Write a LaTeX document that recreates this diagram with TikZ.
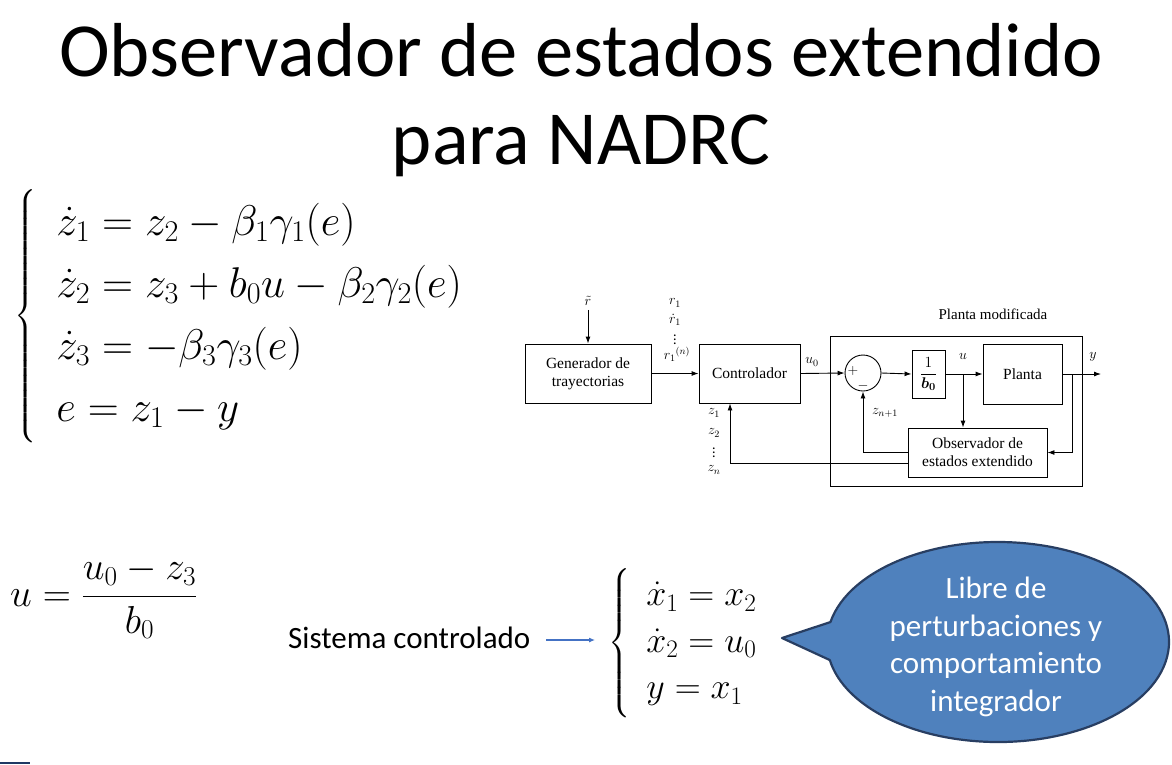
\RequirePackage{fix-cm}
\documentclass[tikz,border=0pt]{standalone}
\usepackage{amsmath}
\usepackage{fontspec}
\setmainfont{Carlito}
\newfontfamily\tnr{Liberation Serif}
\usetikzlibrary{arrows.meta}
\definecolor{callfill}{RGB}{79,129,189}
\definecolor{callline}{RGB}{40,62,98}
\definecolor{arrblue}{RGB}{68,114,196}
\definecolor{navy}{RGB}{31,56,100}
\begin{document}
\begin{tikzpicture}[x=1pt,y=-1pt,
  blk/.style={draw, line width=0.9pt, inner sep=0pt, align=center,
    font=\tnr\fontsize{15.5}{18}\selectfont},
  arr/.style={-{Latex[length=7pt,width=5pt]}, line width=0.9pt},
  lbl/.style={inner sep=0pt, font=\fontsize{14}{16}\selectfont},
  title/.style={inner sep=0pt, anchor=base, font=\fontsize{76.5}{82}\selectfont}]
\useasboundingbox (0,0) rectangle (1172,764);
\fill[white] (0,0) rectangle (1172,764);

% title
\node[title] (t1) at (581,76) {Observador de estados extendido};
\node[title] (t2) at (581,164) {para NADRC};

% extended state observer equations
\node[anchor=west, inner sep=0pt] (sysz) at (14,316)
  {\fontsize{43}{62}\selectfont
   $\left\{\begin{array}{@{\hspace{20pt}}l@{}}
   \dot z_1 = z_2 - \beta_1\gamma_1(e)\\
   \dot z_2 = z_3 + b_0u - \beta_2\gamma_2(e)\\
   \dot z_3 = -\beta_3\gamma_3(e)\\
   e = z_1 - y
   \end{array}\right.$};

% block diagram
\node[blk, minimum width=126pt, minimum height=59pt] (gen) at (588,373.5) {Generador de\\trayectorias};
\node[blk, minimum width=101pt, minimum height=59pt] (ctrl) at (749.5,373.5) {Controlador};
\node[draw, line width=0.9pt, minimum width=252pt, minimum height=150pt, inner sep=0pt] (pm) at (956,411) {};
\node[lbl, font=\tnr\fontsize{15}{17}\selectfont] (pmlbl) at (993,314) {Planta modificada};
\node[draw, circle, line width=0.9pt, minimum size=36pt, inner sep=0pt] (sum) at (863,373) {};
\node[lbl] (plus) at (853,371) {$+$};
\node[lbl] (minus) at (863,386) {$-$};
\node[blk, minimum width=33pt, minimum height=48pt] (gain) at (928.5,374) {$\dfrac{1}{\boldsymbol{b_0}}$};
\node[blk, minimum width=79pt, minimum height=60pt] (plant) at (1022.5,374) {Planta};
\node[blk, minimum width=139pt, minimum height=49pt] (obs) at (977.5,452.5) {Observador de\\estados extendido};

\node[lbl] (rt) at (588,301) {$\tilde r$};
\node[lbl] (r1) at (675,303) {$r_1$};
\node[lbl] (r1d) at (675,320) {$\dot r_1$};
\node[lbl] (r1v) at (675,337) {$\vdots$};
\node[lbl] (r1n) at (677,354) {$r_1{}^{(n)}$};
\node[lbl] (u0) at (812,362) {$u_0$};
\node[lbl] (ul) at (963,356) {$u$};
\node[lbl] (yl) at (1093,357) {$y$};
\node[lbl] (znp) at (885,413) {$z_{n+1}$};
\node[lbl] (z1) at (714,413) {$z_1$};
\node[lbl] (z2) at (714,433) {$z_2$};
\node[lbl] (zv) at (714,450) {$\vdots$};
\node[lbl] (zn) at (714,470) {$z_n$};

\coordinate (ub) at (963,374);
\coordinate (yb) at (1072,374);
\coordinate (yout) at (1101,374);
\coordinate (fb) at (908,463);

\draw[arr] ([yshift=-4pt]rt.south) -- (gen.north);
\draw[arr] (gen.east) -- (ctrl.west);
\draw[arr] (ctrl.east) -- (sum.west);
\draw[arr] (sum.east) -- (gain.west);
\draw[arr] (gain.east) -- (plant.west);
\draw[arr] (ub) -- (ub |- obs.north);
\draw[arr] (plant.east) -- (yout);
\draw[arr] (yb) |- (obs.east);
\draw[arr] (obs.west) -| (sum.south);
\draw[arr] (fb) -| ([xshift=-19.5pt]ctrl.south);

% control law
\node[anchor=west, inner sep=0pt] (ueq) at (10,598)
  {\fontsize{39}{44}\selectfont $u = \dfrac{u_0 - z_3}{b_0}$};

% controlled system
\node[anchor=base west, inner sep=0pt, font=\fontsize{31}{36}\selectfont] (sc) at (288,648) {Sistema controlado};
\node[anchor=west, inner sep=0pt] (sysx) at (608,643)
  {\fontsize{36}{46.5}\selectfont
   $\left\{\begin{array}{@{\hspace{16pt}}l@{}}
   \dot x_1 = x_2\\
   \dot x_2 = u_0\\
   y = x_1
   \end{array}\right.$};
\coordinate (a1) at (546,640);
\coordinate (a2) at (595,640);
\draw[arrblue, line width=1.1pt, -{Latex[length=6pt,width=5pt]}] (a1) -- (a2);

% callout
\filldraw[fill=callfill, draw=callline, line width=2.2pt, line join=round]
  ([shift={(998,642)}]191.5:171 and 100)
  arc[start angle=191.5, end angle=529.6, x radius=171, y radius=100]
  -- (782,638) -- cycle;
\node[text=white, align=center, inner sep=0pt, font=\fontsize{31}{37.5}\selectfont] (note) at (996,647)
  {Libre de\\perturbaciones y\\comportamiento\\integrador};

\fill[navy] (0,761.5) rectangle (30,764);
\end{tikzpicture}
\end{document}
